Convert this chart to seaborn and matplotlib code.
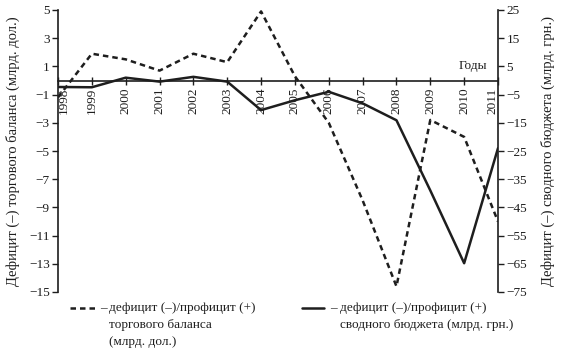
import matplotlib
matplotlib.use("Agg")
import matplotlib.pyplot as plt
from matplotlib.lines import Line2D
import seaborn as sns
import pandas as pd

# Данные
years = [1998, 1999, 2000, 2001, 2002, 2003, 2004, 2005, 2006, 2007, 2008, 2009, 2010, 2011]
# торговый баланс, млрд. дол. (левая ось)
trade = [-1.2, 1.9, 1.5, 0.7, 1.9, 1.3, 4.9, 0.3, -3.0, -8.5, -14.6, -2.8, -4.0, -10.0]
# сводный бюджет, млрд. грн. (правая ось)
budget = [-2.3, -2.4, 1.0, -0.4, 1.3, -0.4, -10.5, -7.0, -4.0, -8.1, -14.1, -39.0, -64.8, -24.0]

left_ticks = [5, 3, 1, -1, -3, -5, -7, -9, -11, -13, -15]
right_ticks = [25, 15, 5, -5, -15, -25, -35, -45, -55, -65, -75]

sns.set_theme(style="white")
plt.rcParams['font.family'] = ['Liberation Serif', 'DejaVu Serif']
plt.rcParams['axes.unicode_minus'] = True

df = pd.DataFrame({"year": years, "trade": trade, "budget": budget})

ink = '#1e1e1e'
fig = plt.figure(figsize=(5.64, 3.52), dpi=100)
ax = fig.add_axes([58 / 564, 1 - 292 / 352, 440 / 564, 282 / 352])
ax2 = ax.twinx()

sns.lineplot(data=df, x="year", y="trade", ax=ax, color=ink, lw=1.8,
             linestyle=(0, (2.2, 1.6)))
sns.lineplot(data=df, x="year", y="budget", ax=ax2, color=ink, lw=1.8)

ax.set_xlim(years[0], years[-1])
ax.set_ylim(-15, 5)
ax2.set_ylim(-75, 25)

# ось X проходит через ноль
for s in ['top', 'right']:
    ax.spines[s].set_visible(False)
ax.spines['bottom'].set_position(('data', 0))
ax.spines['bottom'].set_color(ink)
ax.spines['bottom'].set_linewidth(1.2)
ax.spines['left'].set_color(ink)
ax.spines['left'].set_linewidth(1.2)
for s in ['top', 'left', 'bottom']:
    ax2.spines[s].set_visible(False)
ax2.spines['right'].set_color(ink)
ax2.spines['right'].set_linewidth(1.2)

ax.set_xticks(years)
ax.set_xticklabels([str(y) for y in years], rotation=90, fontsize=9.5, color=ink)
ax.tick_params(axis='x', direction='inout', length=6, width=1, color=ink, pad=2, bottom=True)
labels = ax.get_xticklabels()
labels[0].set_ha('left')
labels[-1].set_ha('right')

ax.set_yticks(left_ticks)
ax.set_yticklabels([f"{t}".replace('-', '\u2212') for t in left_ticks], fontsize=9.5, color=ink)
ax.tick_params(axis='y', direction='out', length=4, width=1, color=ink, pad=2, left=True)
ax2.set_yticks(right_ticks)
ax2.set_yticklabels([f"{t}".replace('-', '\u2212') for t in right_ticks], fontsize=9.5, color=ink)
ax2.tick_params(axis='y', direction='out', length=4, width=1, color=ink, pad=2, right=True)

ax.set_xlabel('')
ax.set_ylabel('Дефицит (–) торгового баланса (млрд. дол.)', fontsize=10.5, color=ink)
ax2.set_ylabel('Дефицит (–) сводного бюджета (млрд. грн.)', fontsize=10.5, color=ink)
ax.yaxis.set_label_coords(-0.086, 0.5)
ax2.yaxis.set_label_coords(1.097, 0.5)

ax.text(2010.67, 0.6, 'Годы', ha='right', va='bottom', fontsize=9.5, color=ink)

# легенда под графиком
def fx(px):
    return px / 564

def fy(py):
    return 1 - py / 352

fig.add_artist(Line2D([fx(70), fx(96)], [fy(308), fy(308)], color=ink, lw=1.8,
                      linestyle=(0, (2.2, 1.6))))
fig.text(fx(100), fy(308), '–', ha='left', va='center', fontsize=9.5, color=ink)
fig.text(fx(109), fy(308), 'дефицит (–)/профицит (+)', ha='left', va='center', fontsize=9.5, color=ink)
fig.text(fx(109), fy(325), 'торгового баланса', ha='left', va='center', fontsize=9.5, color=ink)
fig.text(fx(109), fy(342), '(млрд. дол.)', ha='left', va='center', fontsize=9.5, color=ink)

fig.add_artist(Line2D([fx(302), fx(324)], [fy(308), fy(308)], color=ink, lw=1.8))
fig.text(fx(330), fy(308), '–', ha='left', va='center', fontsize=9.5, color=ink)
fig.text(fx(340), fy(308), 'дефицит (–)/профицит (+)', ha='left', va='center', fontsize=9.5, color=ink)
fig.text(fx(340), fy(325), 'сводного бюджета (млрд. грн.)', ha='left', va='center', fontsize=9.5, color=ink)

fig.savefig('out.png', dpi=100)
